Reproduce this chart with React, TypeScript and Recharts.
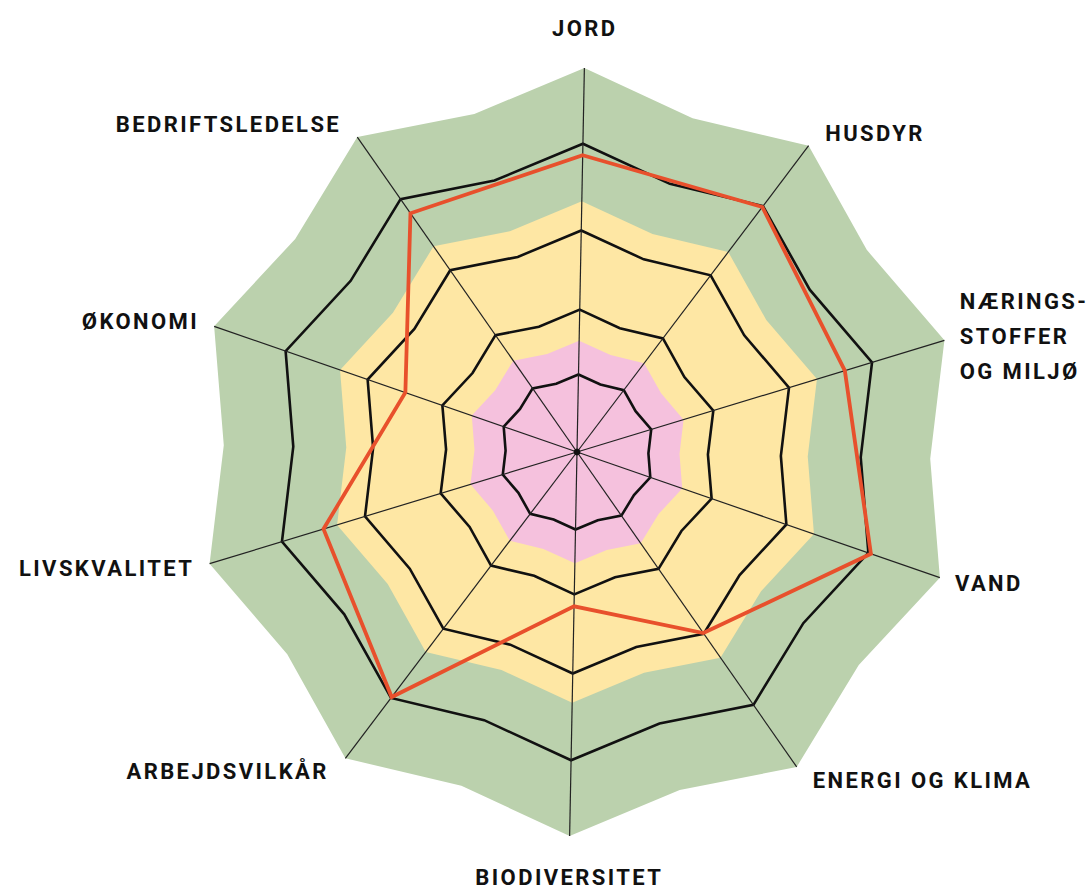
import React from "react";
import { PolarAngleAxis, PolarGrid, PolarRadiusAxis, Radar, RadarChart } from "recharts";

// the ten themes, clockwise from the top
const categories = [
  "JORD",
  "HUSDYR",
  "NÆRINGSSTOFFER OG MILJØ",
  "VAND",
  "ENERGI OG KLIMA",
  "BIODIVERSITET",
  "ARBEJDSVILKÅR",
  "LIVSKVALITET",
  "ØKONOMI",
  "BEDRIFTSLEDELSE"
];

const tickLabels = [
  ["JORD"],
  ["HUSDYR"],
  ["NÆRINGS-", "STOFFER", "OG MILJØ"],
  ["VAND"],
  ["ENERGI OG KLIMA"],
  ["BIODIVERSITET"],
  ["ARBEJDSVILKÅR"],
  ["LIVSKVALITET"],
  ["ØKONOMI"],
  ["BEDRIFTSLEDELSE"]
];

// farm score per theme (0-100 on the radial axis)
const score = [77.3, 80, 72.9, 81, 57.5, 40.2, 80, 69, 47.3, 75.8];

// coloured zones: value on a spoke and value half-way between two spokes
const bandKeys = ["green", "yellow", "pink"];
const bandAtSpoke = [100, 65.3, 29];
const bandBetween = [92, 60.1, 26.7];

// black web lines
const webKeys = ["w1", "w2", "w3", "w4"];
const webAtSpoke = [20.2, 37.1, 57.7, 80.3];
const webBetween = [18.6, 34.1, 53.1, 73.9];

const centerDot = [0.9, 0.9, 0.9, 0.9, 0.9, 0.9, 0.9, 0.9, 0.9, 0.9];

const W = 1090;
const H = 889;
const CX = 577;
const CY = 452;
const R = 384;
const START = 88.9;

const bandColors: Record<string, string> = { green: "#BBD1AD", yellow: "#FEE7A4", pink: "#F5C1DD" };

// 20 points: every spoke plus the point between it and the next one
const webData = Array.from({ length: categories.length * 2 }, (_, i) => {
  const row: Record<string, string | number> = { key: `p${i}` };
  bandKeys.forEach((k, j) => {
    row[k] = i % 2 === 0 ? bandAtSpoke[j] : bandBetween[j];
  });
  webKeys.forEach((k, j) => {
    row[k] = i % 2 === 0 ? webAtSpoke[j] : webBetween[j];
  });
  return row;
});

const scoreData = categories.map((c, i) => ({ category: c, score: score[i], dot: centerDot[i] }));

const FONT = 22;

function AxisTick(props: any) {
  const { y, payload } = props;
  let x = props.x;
  const idx = categories.indexOf(payload.value);
  const lines = tickLabels[idx] ?? [String(payload.value)];
  const dx = x - CX;
  const dist = Math.hypot(dx, y - CY);
  let anchor: "start" | "middle" | "end" = "middle";
  if (dx > 30) anchor = "start";
  else if (dx < -30) anchor = "end";

  // diagonal labels sit a little further out sideways
  if (anchor !== "middle" && Math.abs(dx) / dist < 0.8) x += anchor === "start" ? 7 : -7;

  let centerY = y;
  if (anchor === "middle") centerY = y < CY ? y - 24 : y + 25;
  const lineGap = 35;
  const firstBaseline = centerY - ((lines.length - 1) * lineGap) / 2 + FONT * 0.36;

  return (
    <text
      x={x}
      y={firstBaseline}
      textAnchor={anchor}
      fill="#111"
      fontFamily="Roboto, 'Noto Sans', sans-serif"
      fontWeight={700}
      fontSize={FONT}
      letterSpacing={2.4}
    >
      {lines.map((l, i) => (
        <tspan key={l} x={x} dy={i === 0 ? 0 : lineGap}>
          {l}
        </tspan>
      ))}
    </text>
  );
}

const chartProps = {
  width: W,
  height: H,
  cx: CX,
  cy: CY,
  outerRadius: R,
  startAngle: START,
  endAngle: START - 360,
  margin: { top: 0, right: 0, bottom: 0, left: 0 }
};

export default function App() {
  return (
    <div style={{ position: "absolute", left: 0, top: 0, width: W, height: H, background: "#fff" }}>
      <div style={{ position: "absolute", left: 0, top: 0 }}>
        <RadarChart {...chartProps} data={webData}>
          <PolarAngleAxis dataKey="key" tick={false} tickLine={false} axisLine={false} />
          <PolarRadiusAxis domain={[0, 100]} tick={false} axisLine={false} />
          {bandKeys.map((k) => (
            <Radar
              key={k}
              dataKey={k}
              fill={bandColors[k]}
              fillOpacity={1}
              stroke="none"
              isAnimationActive={false}
            />
          ))}
          {webKeys.map((k) => (
            <Radar
              key={k}
              dataKey={k}
              fill="none"
              stroke="#111"
              strokeWidth={2.6}
              isAnimationActive={false}
            />
          ))}
        </RadarChart>
      </div>
      <div style={{ position: "absolute", left: 0, top: 0 }}>
        <RadarChart {...chartProps} data={scoreData}>
          <PolarGrid gridType="polygon" polarRadius={[]} stroke="#222" strokeWidth={1.2} />
          <PolarAngleAxis
            dataKey="category"
            tick={(p: any) => <AxisTick {...p} />}
            tickSize={16}
            tickLine={false}
            axisLine={false}
          />
          <PolarRadiusAxis domain={[0, 100]} tick={false} axisLine={false} />
          <Radar dataKey="dot" fill="#111" fillOpacity={1} stroke="none" isAnimationActive={false} />
          <Radar
            dataKey="score"
            fill="none"
            stroke="#E8502C"
            strokeWidth={3.8}
            isAnimationActive={false}
          />
        </RadarChart>
      </div>
    </div>
  );
}
